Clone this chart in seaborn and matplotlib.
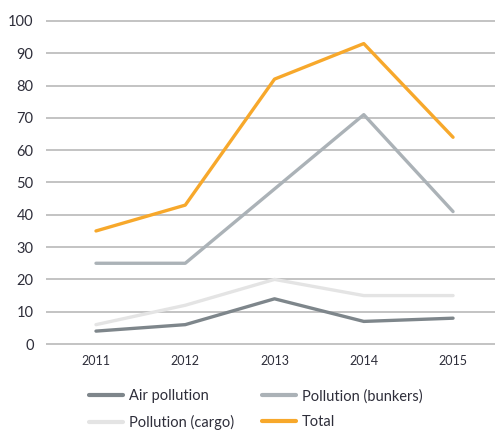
import matplotlib
matplotlib.use("Agg")
import matplotlib.pyplot as plt
import seaborn as sns
import pandas as pd

years = ["2011", "2012", "2013", "2014", "2015"]
air_pollution = [4, 6, 14, 7, 8]
pollution_bunkers = [25, 25, 48, 71, 41]
pollution_cargo = [6, 12, 20, 15, 15]
total = [35, 43, 82, 93, 64]

series_names = ["Air pollution", "Pollution (bunkers)", "Pollution (cargo)", "Total"]
series_values = [air_pollution, pollution_bunkers, pollution_cargo, total]
colors = {
    "Air pollution": "#7e868b",
    "Pollution (bunkers)": "#abb2b7",
    "Pollution (cargo)": "#e4e4e4",
    "Total": "#f7a82b",
}

rows = []
for name, vals in zip(series_names, series_values):
    for i, (yr, v) in enumerate(zip(years, vals)):
        rows.append({"pos": i, "year": yr, "value": v, "series": name})
df = pd.DataFrame(rows)

sns.set_theme(style="white")
plt.rcParams["font.family"] = ["Lato", "DejaVu Sans"]
text_color = "#2e2e3a"

fig = plt.figure(figsize=(4.95, 4.33), dpi=100)
ax = fig.add_axes([46 / 495, 1 - 345 / 433, 1 - 46 / 495, (345 - 20) / 433])

sns.lineplot(data=df, x="pos", y="value", hue="series", hue_order=series_names,
             palette=colors, linewidth=2.4, ax=ax, legend=False, zorder=3)

ax.set_xlim(-0.56, 4.47)
ax.set_ylim(-0.3, 100.3)
ax.set_yticks(range(0, 101, 10))
ax.set_xticks(range(len(years)))
ax.set_xticklabels(years)
ax.set_xlabel("")
ax.set_ylabel("")
ax.grid(axis="y", color="#b3b3b3", linewidth=1.1)
ax.grid(axis="x", visible=False)
for s in ax.spines.values():
    s.set_visible(False)
ax.tick_params(axis="y", length=0, pad=9, labelsize=10.5, labelcolor=text_color)
ax.tick_params(axis="x", length=0, pad=7, labelsize=9, labelcolor=text_color)

handles = [plt.Line2D([], [], color=colors[n], linewidth=3) for n in series_names]
order = [0, 2, 1, 3]
leg = fig.legend([handles[i] for i in order], [series_names[i] for i in order],
                 loc="upper left", bbox_to_anchor=(76 / 495, 1 - 376 / 433), ncol=2,
                 frameon=False, fontsize=10.5, handlelength=2.3, handletextpad=0.45,
                 columnspacing=1.9, labelspacing=0.8)
for t in leg.get_texts():
    t.set_color(text_color)

fig.savefig("out.png", dpi=100)
